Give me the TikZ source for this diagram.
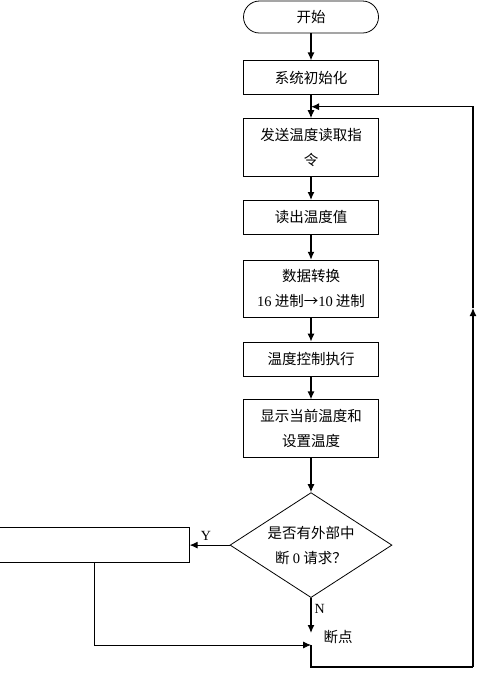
\documentclass[tikz,border=0pt]{standalone}
\usepackage{fontspec}
\setmainfont{Liberation Serif}
\newfontfamily\cjk{Noto Sans CJK SC}
\usetikzlibrary{arrows.meta, positioning, shapes.geometric}

\begin{document}
\begin{tikzpicture}[->, >={Latex[length=8pt,width=7pt]}, x=1pt, y=1pt,
    line width=1.2pt, font=\cjk\fontsize{14.5}{25}\selectfont]
  \tikzstyle{proc} = [draw, -, line width=0.8pt, text centered,
    align=center, minimum width=135pt, inner sep=0pt]
  \tikzstyle{term} = [proc, rounded corners=16pt, minimum height=32pt]
  \tikzstyle{cond} = [draw, -, line width=0.8pt, diamond, aspect=1.55,
    align=center, minimum width=162pt, minimum height=105pt, inner sep=0pt]
  \tikzstyle{lbl} = [inner sep=0pt, font=\rmfamily\fontsize{14}{16}\selectfont]
  \useasboundingbox (0,0) rectangle (479,-673);
  \node [term] at (311,-17) (start) {开始};
  \node [proc, minimum height=34pt, below=27pt of start] (init) {系统初始化};
  \node [proc, minimum height=58pt, below=23pt of init] (send) {发送温度读取指\\令};
  \node [proc, minimum height=34pt, below=23pt of send] (read) {读出温度值};
  \node [proc, minimum height=57pt, below=25pt of read] (conv)
    {数据转换\\\textrm{16} 进制→\textrm{10} 进制};
  \node [proc, minimum height=34pt, below=24pt of conv] (ctrl) {温度控制执行};
  \node [proc, minimum height=58pt, below=23pt of ctrl] (show)
    {显示当前温度和\\设置温度};
  \node [cond, below=34pt of show] (intr) {是否有外部中\\断 \textrm{0} 请求？};
  \node [proc, minimum width=190pt, minimum height=35pt, left=40pt of intr] (isr) {};
  \node [lbl, above left=4pt and 18pt of intr.west] (ylab) {Y};
  \node [lbl, below right=6pt and 3pt of intr.south] (nlab) {N};
  \coordinate [below=11.5pt of init] (join);
  \coordinate [below=47pt of intr] (bp);
  \coordinate [above=12pt of bp] (nend);
  \coordinate (br) at (473,-667);
  \coordinate (rmid) at (473,-308);
  \node [inner sep=0pt, above right=1pt and 12pt of bp] (bplab) {断点};
  \draw (start) -- (init);
  \draw (init) -- (send);
  \draw (send) -- (read);
  \draw (read) -- (conv);
  \draw (conv) -- (ctrl);
  \draw (ctrl) -- (show);
  \draw (show) -- (intr);
  \draw (intr.west) -- (isr.east);
  \draw (intr.south) -- (nend);
  \draw [line width=0.8pt] (isr.south) |- (bp);
  \draw [-] (bp) |- (br);
  \draw (br) -- (rmid);
  \draw (rmid) |- (join);
\end{tikzpicture}
\end{document}
